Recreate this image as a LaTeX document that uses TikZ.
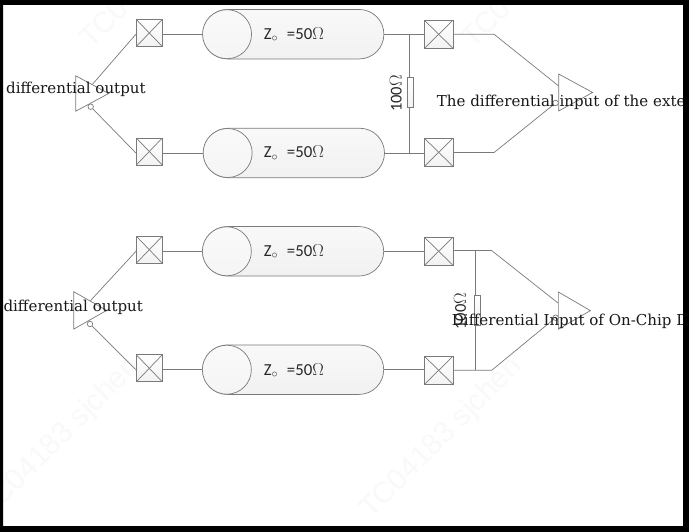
\documentclass[tikz,border=0pt]{standalone}
\usepackage{fontspec}
\setmainfont{DejaVu Serif}
\newfontfamily\labelfont{Carlito}
\newfontfamily\markfont{Liberation Sans}
\usetikzlibrary{positioning,calc,shapes.geometric,shapes.misc}

\definecolor{wire}{HTML}{7A7A7A}

\begin{document}
\begin{tikzpicture}[
		x=1pt, y=-1pt,
		wire/.style = {draw=wire, line width=0.7pt},
		pill/.style = {
			wire, rounded rectangle,
			minimum width=181pt,
			minimum height=49.5pt,
			inner sep=0pt,
			top color=gray!5, middle color=white, bottom color=gray!11
			},
		endcap/.style = {
			wire, circle,
			minimum size=49pt,
			inner sep=0pt,
			top color=gray!4, middle color=white, bottom color=gray!8
			},
		portbox/.style = {
			wire, rectangle,
			inner sep=0pt,
			top color=white, bottom color=gray!10,
			path picture={
				\draw[wire] (path picture bounding box.north west) -- (path picture bounding box.south east);
				\draw[wire] (path picture bounding box.south west) -- (path picture bounding box.north east);
				}
			},
		inport/.style = {portbox, minimum width=26pt, minimum height=27pt},
		outport/.style = {portbox, minimum width=28.5pt, minimum height=28pt},
		buffer/.style = {
			wire, isosceles triangle,
			isosceles triangle stretches,
			shape border rotate=0,
			anchor=lower side,
			inner sep=0pt,
			fill=white
			},
		bubble/.style = {wire, circle, fill=white, minimum size=5.5pt, inner sep=0pt},
		resistor/.style = {
			wire, rectangle,
			minimum width=6pt,
			minimum height=30pt,
			inner sep=0pt,
			top color=white, bottom color=gray!10
			},
		zlabel/.style = {font=\labelfont\fontsize{16.8}{17}\selectfont, inner sep=0pt, text=black!85},
		rlabel/.style = {font=\labelfont\fontsize{16.5}{17}\selectfont, inner sep=0pt, rotate=90, text=black!85},
		caption/.style = {font=\fontsize{15.05}{17}\selectfont, anchor=base west, inner sep=0pt, text=black!90},
		watermark/.style = {font=\markfont\fontsize{29.5}{30}\selectfont, anchor=base west, inner sep=0pt, rotate=45, text=black!2.5}
		]
		\useasboundingbox (0,0) rectangle (689,532);
		\fill[white] (0,0) rectangle (689,532);
		
		\node[watermark] (mark1) at (91,50) {TC04183 sjchen};
		\node[watermark] (mark2) at (473,50) {TC04183 sjchen};
		\node[watermark] (mark3) at (-11,520) {TC04183 sjchen};
		\node[watermark] (mark4) at (371,520) {TC04183 sjchen};
		
		% upper pair
		\node[buffer, minimum width=35.5pt, minimum height=33pt] (txa) at (75.3,93.5) {};
		\node[bubble] (txabub) at (90.7,106.7) {};
		\node[inport] (pa1) at (149.3,33) {};
		\node[inport] (pa2) at (149.3,151.5) {};
		\node[pill] (la1) at (293.4,34.2) {};
		\node[pill] (la2) at (294,153) {};
		\node[endcap] (ca1) at (la1.west) [xshift=24.5pt] {};
		\node[endcap] (ca2) at (la2.west) [xshift=24.5pt] {};
		\node[zlabel] (za1) at (293.8,34.6) {Z$_{\circ}$\hspace{5pt} =50$\Omega$};
		\node[zlabel] (za2) at (293.8,153) {Z$_{\circ}$\hspace{5pt} =50$\Omega$};
		\node[outport] (qa1) at (438.7,34.3) {};
		\node[outport] (qa2) at (438.7,152.3) {};
		\node[resistor] (ra) at (410.3,92.5) {};
		\node[rlabel] (ralab) at (395.7,93.5) {100$\Omega$};
		\node[buffer, minimum width=37pt, minimum height=34pt] (rxa) at (558.3,92.5) {};
		\node[bubble] (rxabub) at (555.6,103) {};
		
		\coordinate (ja1) at (409.3,34.2);
		\coordinate (ja2) at (409.3,152.6);
		\coordinate (ea1) at (494,34.2);
		\coordinate (ea2) at (494,152.6);
		\coordinate (ina) at (558.3,85.7);
		
		\draw[wire] ($(txa.apex)!0.5!(txa.left corner)$) -- (pa1.west |- la1.west);
		\draw[wire] (txabub) -- (pa2.west |- la2.west);
		\draw[wire] (la1.west -| pa1.east) -- (la1.west);
		\draw[wire] (la2.west -| pa2.east) -- (la2.west);
		\draw[wire] (la1.east) -- (la1.east -| qa1.west);
		\draw[wire] (la2.east) -- (la2.east -| qa2.west);
		\draw[wire] (ja1) -- (ja1 |- ra.north);
		\draw[wire] (ja2 |- ra.south) -- (ja2);
		\draw[wire] (ja1 -| qa1.east) -- (ea1) -- (ina);
		\draw[wire] (ja2 -| qa2.east) -- (ea2) -- (rxabub);
		
		% lower pair
		\node[buffer, minimum width=37.5pt, minimum height=33pt] (txb) at (73.3,310.4) {};
		\node[bubble] (txbbub) at (90,324) {};
		\node[inport] (pb1) at (149.3,249.7) {};
		\node[inport] (pb2) at (149.3,368.3) {};
		\node[pill] (lb1) at (293.2,251.3) {};
		\node[pill] (lb2) at (293.2,369.7) {};
		\node[endcap] (cb1) at (lb1.west) [xshift=24.5pt] {};
		\node[endcap] (cb2) at (lb2.west) [xshift=24.5pt] {};
		\node[zlabel] (zb1) at (293.8,251.6) {Z$_{\circ}$\hspace{5pt} =50$\Omega$};
		\node[zlabel] (zb2) at (293.8,370.4) {Z$_{\circ}$\hspace{5pt} =50$\Omega$};
		\node[outport] (qb1) at (438.7,251.3) {};
		\node[outport] (qb2) at (438.7,370.3) {};
		\node[resistor] (rb) at (477,310.3) {};
		\node[rlabel] (rblab) at (460,311.3) {100$\Omega$};
		\node[buffer, minimum width=37.3pt, minimum height=32pt] (rxb) at (558,310.6) {};
		\node[bubble] (rxbbub) at (555.6,317.7) {};
		
		\coordinate (jb1) at (475.7,250.6);
		\coordinate (jb2) at (475.7,370.3);
		\coordinate (eb1) at (491.7,250.6);
		\coordinate (eb2) at (491.7,370.3);
		\coordinate (inb) at (558,303);
		
		\draw[wire] ($(txb.apex)!0.5!(txb.left corner)$) -- (pb1.west |- lb1.west);
		\draw[wire] (txbbub) -- (pb2.west |- lb2.west);
		\draw[wire] (lb1.west -| pb1.east) -- (lb1.west);
		\draw[wire] (lb2.west -| pb2.east) -- (lb2.west);
		\draw[wire] (lb1.east) -- (lb1.east -| qb1.west);
		\draw[wire] (lb2.east) -- (lb2.east -| qb2.west);
		\draw[wire] (jb1) -- (jb1 |- rb.north);
		\draw[wire] (jb2 |- rb.south) -- (jb2);
		\draw[wire] (qb1.east |- jb1) -- (eb1) -- (inb);
		\draw[wire] (qb2.east |- jb2) -- (eb2) -- (rxbbub);
		
		\node[caption] (txacap) at (6,94) {differential output};
		\node[caption] (rxacap) at (436.7,106.7) {The differential input of the external};
		\node[caption] (txbcap) at (3.3,311.7) {differential output};
		\node[caption] (rxbcap) at (451.7,325) {Differential Input of On-Chip Differential};
		
		\fill[black, even odd rule] (0,0) rectangle (689,532) (3,5) rectangle (683,526);
	\end{tikzpicture}
\end{document}
